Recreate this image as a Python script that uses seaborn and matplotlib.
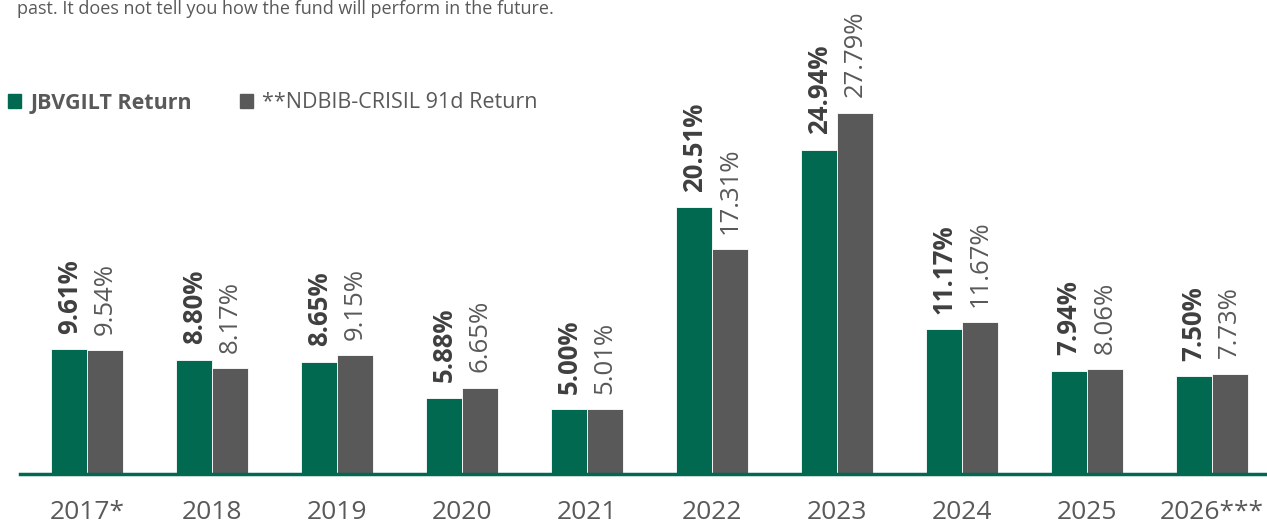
import pandas as pd
import matplotlib
matplotlib.use("Agg")
import matplotlib.pyplot as plt
import seaborn as sns

# data
years = ["2017*", "2018", "2019", "2020", "2021", "2022", "2023", "2024", "2025", "2026***"]
jbv_return = [9.61, 8.80, 8.65, 5.88, 5.00, 20.51, 24.94, 11.17, 7.94, 7.50]
ndbib_return = [9.54, 8.17, 9.15, 6.65, 5.01, 17.31, 27.79, 11.67, 8.06, 7.73]
series_names = ["JBVGILT Return", "**NDBIB-CRISIL 91d Return"]
note_text = "past. It does not tell you how the fund will perform in the future."

green = "#00694F"
grey = "#595959"
text_grey = "#595959"
dark_text = "#3F3F3F"

df = pd.DataFrame({
    "Year": years * 2,
    "Return": jbv_return + ndbib_return,
    "Series": [series_names[0]] * len(years) + [series_names[1]] * len(years),
})

sns.set_theme(style="white")
plt.rcParams["font.family"] = ["Open Sans", "DejaVu Sans"]

W, H = 1267, 529
fig = plt.figure(figsize=(W / 100, H / 100), dpi=100)
ax = fig.add_axes([20 / W, (H - 474) / H, 1 - 20 / W, 474 / H])

sns.barplot(data=df, x="Year", y="Return", hue="Series", order=years,
            hue_order=series_names, palette=[green, grey], saturation=1,
            width=0.57, edgecolor="white", linewidth=0.6, ax=ax)

ax.set_xlim(-0.536, 9.44)
ax.set_ylim(0, 36.46)

# value labels above bars
for i, cont in enumerate(ax.containers):
    vals = jbv_return if i == 0 else ndbib_return
    ax.bar_label(cont, labels=[f"{v:.2f}%" for v in vals], rotation=90,
                 padding=11, fontsize=18.5,
                 fontweight="bold" if i == 0 else "normal",
                 color=dark_text if i == 0 else text_grey)

for side in ["top", "right", "left"]:
    ax.spines[side].set_visible(False)
ax.spines["bottom"].set_color(green)
ax.spines["bottom"].set_linewidth(2.5)
ax.set_yticks([])
ax.set_xlabel("")
ax.set_ylabel("")
ax.tick_params(axis="x", length=0, pad=19, labelsize=19, labelcolor=text_grey)

# legend
ax.get_legend().remove()
handles = [plt.Rectangle((0, 0), 1, 1, color=green), plt.Rectangle((0, 0), 1, 1, color=grey)]
leg = fig.legend(handles, series_names, loc="center left",
                 bbox_to_anchor=(8 / W, 1 - 103 / H), ncol=2, frameon=False,
                 fontsize=15.5, handlelength=0.6, handleheight=0.6,
                 handletextpad=0.45, columnspacing=2.2, borderpad=0, borderaxespad=0)
for t in leg.get_texts():
    t.set_color(text_grey)
leg.get_texts()[0].set_fontweight("bold")

# note at the very top (cropped in the source)
fig.text(17 / W, 1 - 14 / H, note_text, fontsize=13, color=text_grey, va="baseline")

fig.savefig("out.png", dpi=100)
